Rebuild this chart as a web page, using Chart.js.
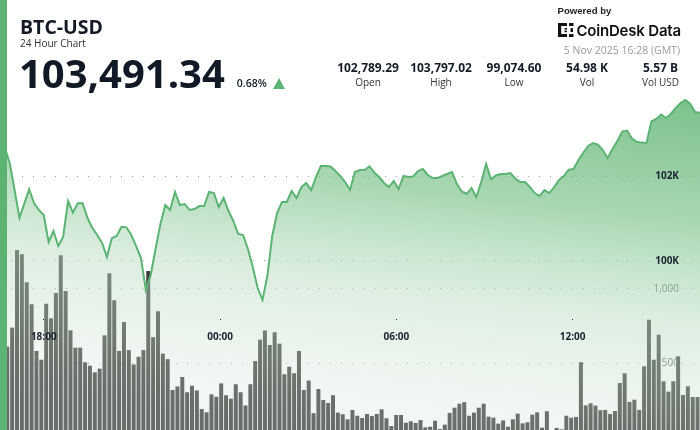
<!DOCTYPE html>
<html>
<head>
<meta charset="utf-8">
<script src="https://cdn.jsdelivr.net/npm/chart.js@4.4.1/dist/chart.umd.min.js"></script>
<style>
    html, body { margin: 0; padding: 0; background: #fff; }
    body { width: 700px; height: 430px; position: relative; overflow: hidden; font-family: 'Open Sans', sans-serif; color: #151b26; }
    #chart { position: absolute; left: 0; top: 0; }
    .accent { position: absolute; left: 0; top: 0; width: 7px; height: 430px; background: #5db472; z-index: 3; }
    .txt { position: absolute; white-space: nowrap; z-index: 2; }
    .stat { position: absolute; width: 80px; text-align: center; z-index: 2; }
    .stat .v { position: absolute; left: 0; width: 80px; top: 62px; font-weight: 700; font-size: 12px; line-height: 12px; color: #151b26; }
    .stat .l { position: absolute; left: 0; width: 80px; top: 76.5px; font-size: 10px; line-height: 10px; color: #333; }
    .tri { position: absolute; left: 273px; top: 78px; width: 0; height: 0; border-left: 6.5px solid transparent; border-right: 6.5px solid transparent; border-bottom: 11px solid #5cb574; z-index: 2; }
</style>
</head>
<body>
<canvas id="chart" width="700" height="430"></canvas>
<div class="accent"></div>

<div class="txt" style="left:20px; top:16.6px; font-weight:700; font-size:19.5px; line-height:19.5px;">BTC-USD</div>
<div class="txt" style="left:20px; top:38.4px; font-size:10px; line-height:10px; color:#333;">24 Hour Chart</div>
<div class="txt" style="left:19px; top:52.8px; font-weight:700; font-size:40px; line-height:40px; color:#111826;">103,491.34</div>
<div class="txt" style="left:236.8px; top:78px; font-weight:600; font-size:10.5px; line-height:10.5px;">0.68%</div>
<div class="tri"></div>

<div class="stat" style="left:328px;"><div class="v">102,789.29</div><div class="l">Open</div></div>
<div class="stat" style="left:401px;"><div class="v">103,797.02</div><div class="l">High</div></div>
<div class="stat" style="left:474px;"><div class="v">99,074.60</div><div class="l">Low</div></div>
<div class="stat" style="left:547px;"><div class="v">54.98 K</div><div class="l">Vol</div></div>
<div class="stat" style="left:620.5px;"><div class="v">5.57 B</div><div class="l">Vol USD</div></div>

<div class="txt" style="left:557.5px; top:6.1px; font-family:'Liberation Sans', Arial, sans-serif; font-weight:700; font-size:9.6px; line-height:9.6px; color:#222;">Powered by</div>
<svg class="txt" style="left:558px; top:23px;" width="17" height="15" viewBox="0 0 17 15">
    <g fill="#111">
        <rect x="0" y="0" width="3.2" height="14"/>
        <rect x="0" y="0" width="9" height="3"/>
        <rect x="0" y="11" width="9" height="3"/>
        <rect x="11" y="0" width="4.5" height="3"/>
        <rect x="11" y="11" width="4.5" height="3"/>
        <rect x="6.5" y="5" width="2.5" height="1.6"/>
        <rect x="6.5" y="7.6" width="2.5" height="1.6"/>
        <rect x="12.5" y="5.2" width="2.5" height="3.8"/>
    </g>
</svg>
<div class="txt" style="left:576.5px; top:23.3px; font-family:Inter, sans-serif; font-weight:600; font-size:15px; line-height:15px; letter-spacing:-0.2px; color:#111;">CoinDesk Data</div>
<div class="txt" style="right:20px; top:44.9px; font-size:10.5px; line-height:10.5px; color:#9a9a9a;">5 Nov 2025 16:28 (GMT)</div>

<script>
// 10 minute bars, 16:30 (4 Nov) .. 16:20 (5 Nov)
const priceValues = [
    102661, 102307, 101669, 101008, 101348, 101686, 101362, 101197, 101079, 100441,
    100701, 100346, 100566, 101409, 101133, 101355, 101355, 101008, 100772, 100606,
    100417, 100086, 100528, 100583, 100802, 100788, 100606, 100346, 100063, 99307,
    99661, 100275, 100866, 101315, 101197, 101622, 101315, 101339, 101197, 101220,
    101291, 101291, 101622, 101598, 101268, 101480, 101173, 100937, 100630, 100606,
    100275, 99850, 99354, 99075, 99638, 100583, 101126, 101386, 101386, 101646,
    101480, 101740, 101835, 101669, 101976, 102236, 102236, 102224, 102118, 102000,
    101858, 101669, 102094, 102142, 102142, 102229, 102083, 101976, 101835, 101740,
    101882, 101693, 102000, 101976, 101988, 102118, 102165, 102024, 101953, 101953,
    102000, 102047, 102094, 101811, 101634, 101575, 101717, 101504, 101858, 102283,
    101929, 102012, 102047, 102047, 102071, 101941, 101858, 101858, 101740, 101598,
    101528, 101669, 101598, 101740, 101906, 102000, 102149, 102165, 102378, 102555,
    102709, 102780, 102739, 102614, 102425, 102638, 102827, 103051, 103075, 102886,
    102810, 102789, 102780, 103288, 103347, 103453, 103370, 103465, 103606, 103725,
    103797, 103701, 103512, 103491.34
];

const volumeValues = [
    600, 612, 740, 1262, 1233, 1045, 897, 583, 524, 901,
    803, 973, 1227, 986, 722, 605, 605, 507, 484, 439,
    464, 688, 1106, 924, 583, 778, 589, 492, 544, 589,
    1121, 676, 850, 565, 528, 320, 344, 408, 305, 349,
    317, 192, 170, 291, 275, 365, 285, 262, 359, 305,
    216, 359, 515, 659, 721, 623, 709, 632, 426, 477,
    433, 583, 320, 384, 164, 327, 253, 233, 285, 168,
    157, 123, 186, 147, 132, 159, 145, 159, 190, 130,
    78, 152, 152, 100, 110, 98, 118, 69, 73, 114,
    58, 87, 166, 201, 228, 238, 147, 168, 201, 228,
    141, 134, 94, 116, 73, 123, 161, 96, 103, 154,
    170, 67, 177, 40, 65, 56, 147, 134, 139, 507,
    217, 231, 215, 184, 186, 159, 179, 367, 433, 240,
    255, 186, 480, 793, 524, 692, 379, 309, 379, 547,
    287, 345, 273, 273
];

const timeLabels = ['18:00', '00:00', '06:00', '12:00'];
const timeHoursAfterFirst = [0, 6, 12, 18];
const priceTicks = [100000, 102000];
const volumeTicks = [500, 1000];

// bar index where 18:00 starts and bars per hour on the time axis
const firstTickIndex = 8.5;
const barsPerHour = 6.045;
const timeTickValues = timeHoursAfterFirst.map(h => firstTickIndex + h * barsPerHour);

Chart.defaults.font.family = "'Open Sans', sans-serif";

function zeroWidth(scale) {
    scale.width = 0;
    scale.paddingTop = 0;
    scale.paddingBottom = 0;
    scale.paddingLeft = 0;
    scale.paddingRight = 0;
}

function areaFill(context) {
    const { ctx, chartArea } = context.chart;
    if (!chartArea) return 'rgba(0,0,0,0)';
    const g = ctx.createLinearGradient(chartArea.right, 100, chartArea.right - 41, 466);
    g.addColorStop(0, 'rgba(101,181,121,0.85)');
    g.addColorStop(0.33, 'rgba(121,194,137,0.65)');
    g.addColorStop(0.6, 'rgba(183,220,191,0.48)');
    g.addColorStop(0.9, 'rgba(212,228,217,0.3)');
    g.addColorStop(1, 'rgba(212,228,217,0.28)');
    return g;
}

const dotted = 'rgba(0,0,0,0.38)';

new Chart(document.getElementById('chart'), {
    type: 'bar',
    data: {
        datasets: [
            {
                type: 'line',
                label: 'Price',
                data: priceValues.map((p, i) => ({ x: i + 0.5, y: p })),
                yAxisID: 'y',
                borderColor: '#5cb473',
                borderWidth: 2,
                tension: 0,
                pointRadius: 0,
                fill: 'start',
                backgroundColor: areaFill,
                order: 0
            },
            {
                type: 'bar',
                label: 'Volume',
                data: volumeValues.map((v, i) => ({ x: i, y: v })),
                yAxisID: 'yv',
                backgroundColor: '#3d403d',
                borderWidth: 0,
                barPercentage: 0.82,
                categoryPercentage: 1,
                order: 1
            }
        ]
    },
    options: {
        responsive: false,
        devicePixelRatio: 1,
        animation: false,
        layout: { padding: 0 },
        plugins: { legend: { display: false }, tooltip: { enabled: false } },
        scales: {
            x: {
                type: 'linear',
                min: -0.5,
                max: 143.5,
                offset: false,
                position: { y: 98620 },
                afterBuildTicks: (s) => { s.ticks = timeTickValues.map(v => ({ value: v })); },
                grid: { offset: false, drawOnChartArea: false, drawTicks: true, tickLength: 1, tickColor: '#222', tickWidth: 1, z: 1 },
                border: { display: false },
                ticks: {
                    z: 1,
                    autoSkip: false,
                    maxRotation: 0,
                    padding: 11,
                    color: '#1b2330',
                    font: { size: 10, weight: 'bold' },
                    callback: (v) => {
                        const i = timeTickValues.indexOf(v);
                        return i >= 0 ? timeLabels[i] : '';
                    }
                }
            },
            yGrid: {
                type: 'linear',
                position: 'right',
                min: 96000,
                max: 106158,
                afterBuildTicks: (s) => { s.ticks = priceTicks.map(v => ({ value: v })); },
                afterFit: zeroWidth,
                grid: { color: dotted, lineWidth: 1, drawTicks: false },
                border: { display: false, dash: [1, 10] },
                ticks: { display: false }
            },
            y: {
                type: 'linear',
                position: 'right',
                min: 96000,
                max: 106158,
                afterBuildTicks: (s) => { s.ticks = priceTicks.map(v => ({ value: v })); },
                afterFit: zeroWidth,
                grid: { display: false },
                border: { display: false },
                ticks: {
                    z: 1,
                    mirror: true,
                    padding: -21,
                    color: '#1b2330',
                    font: { size: 10, weight: 'bold' },
                    callback: (v) => (v / 1000) + 'K'
                }
            },
            yv: {
                type: 'linear',
                position: 'right',
                min: 51,
                max: 2945,
                afterBuildTicks: (s) => { s.ticks = volumeTicks.map(v => ({ value: v })); },
                afterFit: zeroWidth,
                grid: { color: dotted, lineWidth: 1, drawTicks: false },
                border: { display: false, dash: [1, 10] },
                ticks: {
                    mirror: true,
                    padding: -21,
                    color: '#5f655f',
                    font: { size: 10 },
                    callback: (v) => v.toLocaleString('en-US')
                }
            }
        }
    }
});
</script>
</body>
</html>
